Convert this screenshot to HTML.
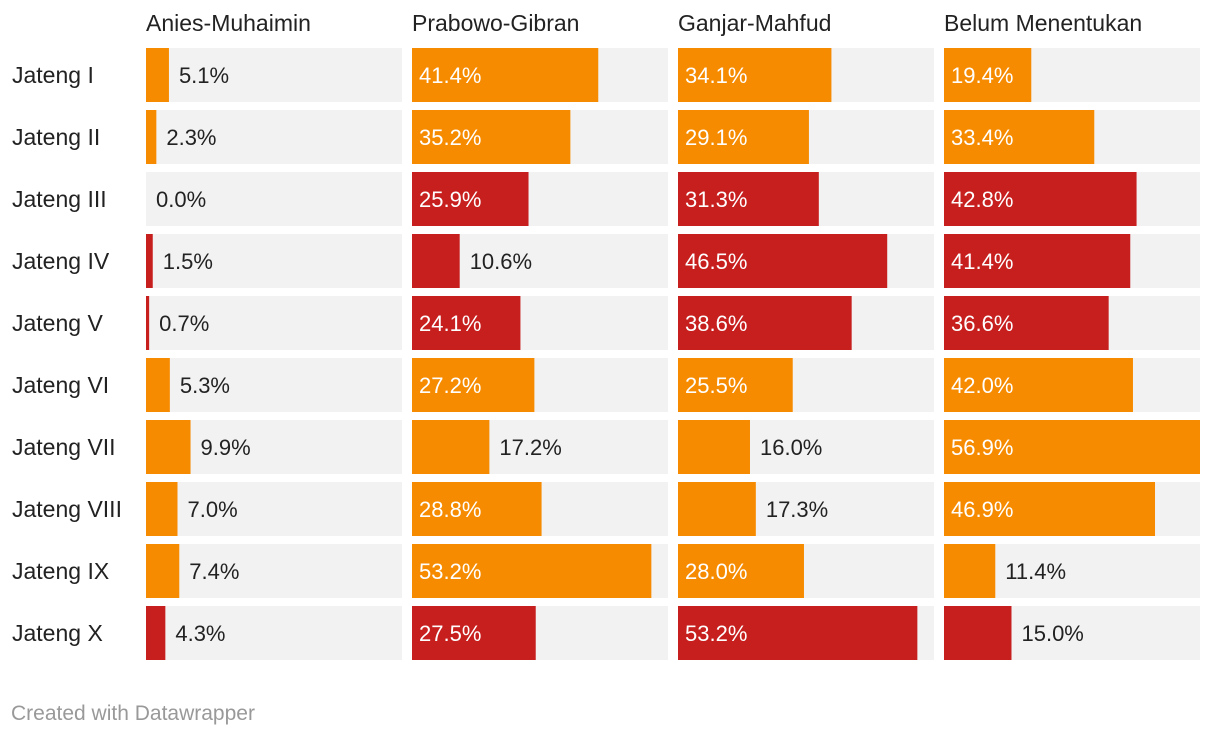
<!DOCTYPE html>
<html><head><meta charset="utf-8"><style>
body{margin:0;background:#fff;width:1220px;height:736px;overflow:hidden;font-family:"Liberation Sans",sans-serif}
</style></head><body>
<svg id="chart" width="1220" height="736" xmlns="http://www.w3.org/2000/svg"></svg>
<script>
const candidates=["Anies-Muhaimin","Prabowo-Gibran","Ganjar-Mahfud","Belum Menentukan"];
const regions=["Jateng I","Jateng II","Jateng III","Jateng IV","Jateng V","Jateng VI","Jateng VII","Jateng VIII","Jateng IX","Jateng X"];
const anies=[5.1,2.3,0.0,1.5,0.7,5.3,9.9,7.0,7.4,4.3];
const prabowo=[41.4,35.2,25.9,10.6,24.1,27.2,17.2,28.8,53.2,27.5];
const ganjar=[34.1,29.1,31.3,46.5,38.6,25.5,16.0,17.3,28.0,53.2];
const belum=[19.4,33.4,42.8,41.4,36.6,42.0,56.9,46.9,11.4,15.0];
const redRows=[false,false,true,true,true,false,false,false,false,true];
const series=[anies,prabowo,ganjar,belum];
const NS="http://www.w3.org/2000/svg";
const svg=document.getElementById('chart');
const colX=[146,412,678,944],panelW=256,maxV=56.9,top0=48,pitch=62,rowH=54;
const xScale=v=>v/maxV*panelW;
const yScale=i=>top0+i*pitch;
function mk(tag,attrs,text){const e=document.createElementNS(NS,tag);for(const k in attrs)e.setAttribute(k,attrs[k]);if(text!=null)e.textContent=text;svg.appendChild(e);return e;}
candidates.forEach((c,j)=>{
  const t=mk('text',{x:colX[j],y:31,'font-size':23,fill:'#222'},c);
  
  
});
regions.forEach((r,i)=>{
  const t=mk('text',{x:12,y:yScale(i)+rowH/2+8,'font-size':23,fill:'#222'},r);
  
  
  series.forEach((s,j)=>{
    const bg=mk('rect',{x:colX[j],y:yScale(i),width:panelW,height:rowH,fill:'#f2f2f2'});
    
    
    const w=xScale(s[i]);
    const b=mk('rect',{x:colX[j],y:yScale(i),width:w,height:rowH,fill:redRows[i]?'#c71e1e':'#f68b00'});
    
    
    const inside=w>=80;
    const lbl=mk('text',{x:inside?colX[j]+7:colX[j]+w+10,y:yScale(i)+rowH/2+8,'font-size':22,fill:inside?'#fff':'#222'},s[i].toFixed(1)+'%');
    
    
  });
});
const f=mk('text',{x:11,y:720,'font-size':21,fill:'#999'},'Created with Datawrapper');


</script>
</body></html>
